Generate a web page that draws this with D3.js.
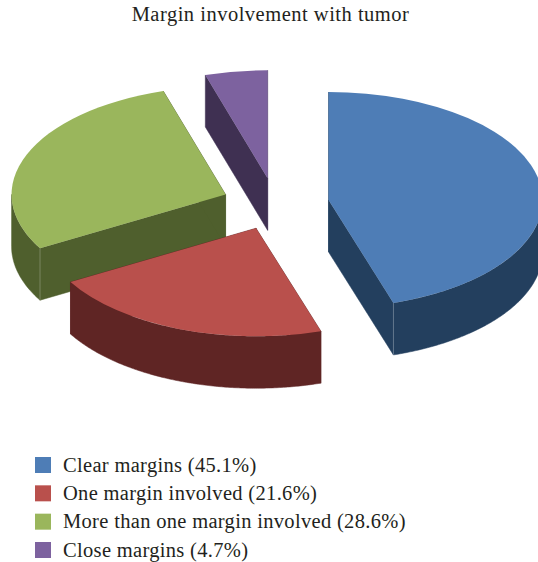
<!DOCTYPE html>
<html>
<head>
<meta charset="utf-8">
<title>Margin involvement with tumor</title>
<script src="https://cdn.jsdelivr.net/npm/d3@7"></script>
<style>
	html, body { margin: 0; padding: 0; background: #fff; overflow: hidden; }
	text { font-family: "Liberation Serif", serif; fill: #231f20; }
</style>
</head>
<body>
<script>
var chartTitle = "Margin involvement with tumor";
var categories = ["Clear margins", "One margin involved", "More than one margin involved", "Close margins"];
var percents = [45.1, 21.6, 28.6, 4.7];
var topColors = ["#4e7db6", "#b9504c", "#9ab65c", "#7d629f"];
var sideColors = ["#233f5e", "#5f2524", "#4f5f2d", "#3f3052"];
var drawOrder = [2, 3, 0, 1];

var width = 538, height = 562;
var centerX = 275.5, centerY = 204;
var radiusX = 214, radiusY = 108;
var explodeX = 53.7, explodeY = 26;
var depth = 52;

var svg = d3.select("body").append("svg")
	.attr("width", width)
	.attr("height", height);

svg.append("text")
	.attr("x", 270.5)
	.attr("y", 21)
	.attr("text-anchor", "middle")
	.attr("font-size", "20.5px")
	.attr("letter-spacing", "0.5px")
	.text(chartTitle);

var slices = d3.pie().sort(null)(percents);
var line = d3.line();
var arcTop = d3.arc().innerRadius(0).outerRadius(1);

drawOrder.forEach(function(i) {
	var s = slices[i];
	var mid = (s.startAngle + s.endAngle) / 2;
	var ax = centerX + explodeX * Math.sin(mid);
	var ay = centerY - explodeY * Math.cos(mid);

	function rim(a, dy) {
		return [ax + radiusX * Math.sin(a), ay - radiusY * Math.cos(a) + dy];
	}
	var g = svg.append("g");

	// radial walls, the hidden ones end up under the top face
	[s.startAngle, s.endAngle].forEach(function(a) {
		g.append("path")
			.attr("d", line([[ax, ay], rim(a, 0), rim(a, depth), [ax, ay + depth]]) + "Z")
			.attr("fill", sideColors[i])
			.attr("stroke", sideColors[i])
			.attr("stroke-width", 0.5);
	});

	// outer wall, only the part facing the viewer
	var from = Math.max(s.startAngle, Math.PI / 2);
	var to = Math.min(s.endAngle, Math.PI * 1.5);
	if (to > from) {
		var angles = d3.range(from, to, 0.01).concat([to]);
		var upper = angles.map(function(a) { return rim(a, 0); });
		var lower = angles.slice().reverse().map(function(a) { return rim(a, depth); });
		g.append("path")
			.attr("d", line(upper.concat(lower)) + "Z")
			.attr("fill", sideColors[i])
			.attr("stroke", sideColors[i])
			.attr("stroke-width", 0.5);
	}

	g.append("path")
		.attr("d", arcTop({startAngle: s.startAngle, endAngle: s.endAngle}))
		.attr("transform", "translate(" + ax + "," + ay + ") scale(" + radiusX + "," + radiusY + ")")
		.attr("fill", topColors[i]);

	// faint highlight on the corner where the walls meet
	var cornerAngle = i == 0 ? s.endAngle : (i == 2 ? s.startAngle : null);
	if (cornerAngle !== null) {
		g.append("path")
			.attr("d", line([rim(cornerAngle, 0), rim(cornerAngle, depth)]))
			.attr("stroke", "#fff")
			.attr("stroke-opacity", 0.25)
			.attr("fill", "none");
	}
});

var legendY = d3.scalePoint()
	.domain(categories)
	.range([465, 550]);

var legend = svg.append("g").selectAll("g")
	.data(categories)
	.enter()
	.append("g")
	.attr("transform", function(d) { return "translate(0," + legendY(d) + ")"; });

legend.append("rect")
	.attr("x", 35)
	.attr("y", -8)
	.attr("width", 16)
	.attr("height", 16)
	.attr("fill", function(d, i) { return topColors[i]; });

legend.append("text")
	.attr("x", 63)
	.attr("y", 6.5)
	.attr("font-size", "20.5px")
	.attr("letter-spacing", "0.32px")
	.text(function(d, i) { return d + " (" + percents[i] + "%)"; });
</script>
</body>
</html>
